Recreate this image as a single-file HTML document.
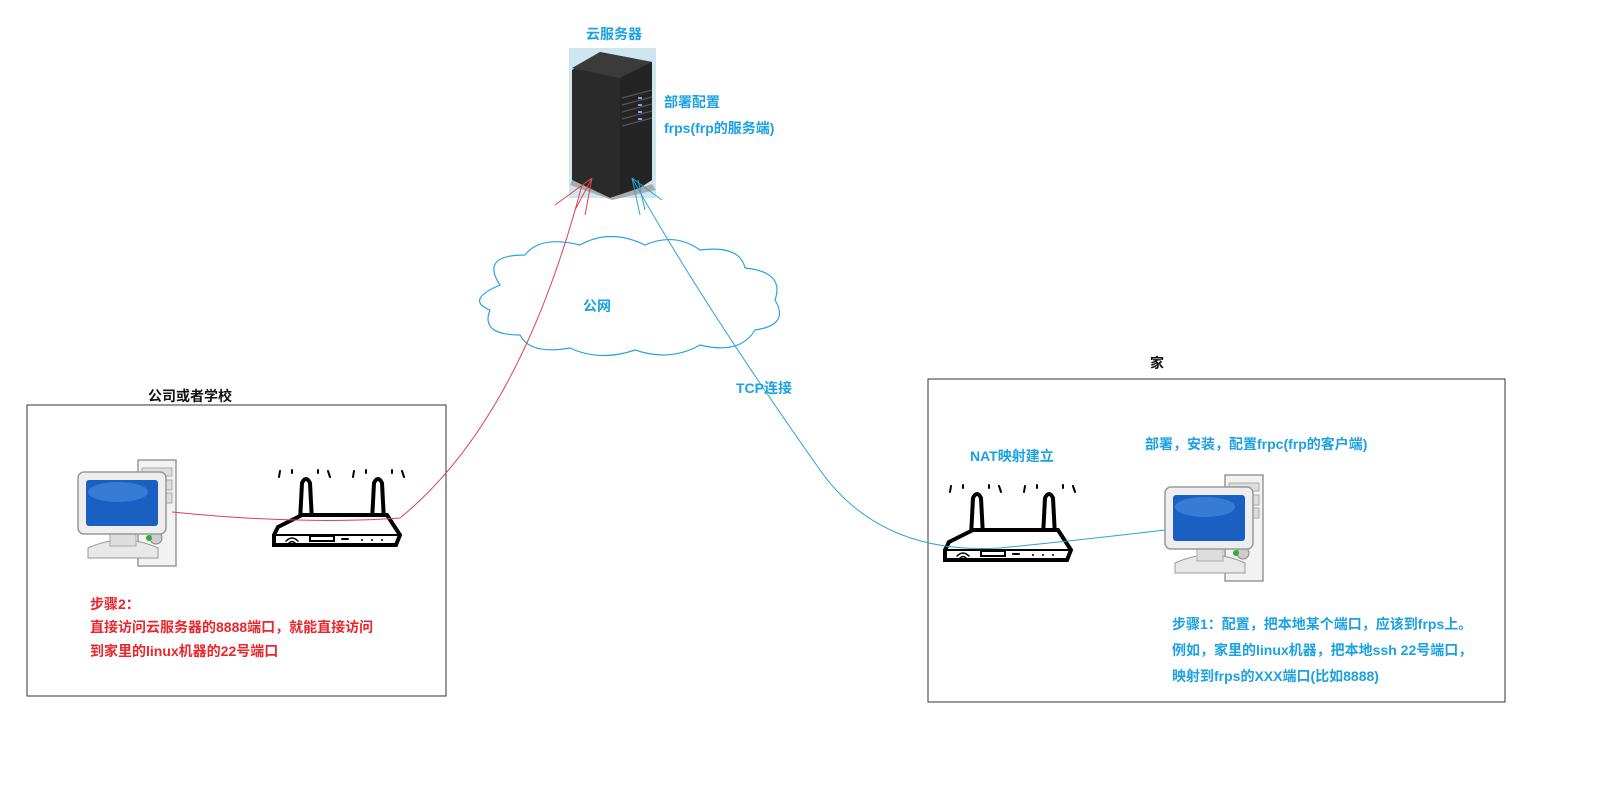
<!DOCTYPE html>
<html><head><meta charset="utf-8"><style>
html,body{margin:0;padding:0;background:#fff}
body{width:1605px;height:796px;overflow:hidden;position:relative;font-family:"Liberation Sans","Noto Sans CJK SC",sans-serif;font-weight:bold}
.t{position:absolute;font-size:14px;white-space:nowrap}
.b{color:#1ba1e2}.r{color:#e8262b}.k{color:#111}
</style></head><body>
<svg width="1605" height="796" style="position:absolute;left:0;top:0">
<defs>
<g id="pc">
 <rect x="60" y="0" width="38" height="106" fill="#f2f2f2" stroke="#999" stroke-width="1.5"/>
 <rect x="64" y="8" width="30" height="8" fill="#ddd" stroke="#aaa"/>
 <rect x="64" y="20" width="30" height="10" fill="#ddd" stroke="#aaa"/>
 <rect x="64" y="33" width="30" height="10" fill="#ddd" stroke="#aaa"/>
 <circle cx="78" cy="78" r="6" fill="#ccc" stroke="#888"/>
 <circle cx="71" cy="78" r="3" fill="#3a3"/>
 <path d="M10 88 Q45 72 80 88 L80 98 L10 98Z" fill="#e8e8e8" stroke="#999"/>
 <rect x="32" y="70" width="26" height="16" fill="#ddd" stroke="#aaa"/>
 <rect x="0" y="12" width="88" height="62" rx="6" fill="#eee" stroke="#999" stroke-width="1.5"/>
 <rect x="8" y="20" width="72" height="46" rx="3" fill="#1a5fc2"/>
 <ellipse cx="40" cy="32" rx="30" ry="10" fill="#4b8fe0" opacity=".6"/>
</g>
<g id="rt" fill="none" stroke="#000" stroke-width="4" stroke-linecap="round">
 <path d="M28 56 L30 18 Q34 10 38 18 L40 56"/>
 <path d="M100 56 L102 18 Q106 10 110 18 L112 56"/>
 <path d="M6 62 L30 50 L115 50 L128 70 L124 80 L2 80 L2 70Z" fill="#fff"/>
 <path d="M2 70 L128 70" stroke-width="2"/>
 <rect x="38" y="71" width="24" height="5" stroke-width="2"/>
 <path d="M70 74 L76 74 M90 75 L90 75 M100 75 L100 75 M110 75 L110 75" stroke-width="2"/>
 <path d="M14 76 Q20 70 26 76 M17 78 Q20 75 23 78" stroke-width="1.5"/>
 <path d="M8 6 L7 12 M20 5 L20 8 M46 5 L46 8 M56 6 L58 12 M82 6 L81 12 M94 5 L94 8 M120 5 L120 8 M130 6 L132 12" stroke-width="2"/>
</g>
</defs>
<!-- cloud -->
<path d="M500 285 Q480 255 525 255 Q540 235 580 245 Q610 228 645 245 Q675 232 700 250 Q740 245 745 268 Q785 272 775 300 Q790 325 755 330 Q740 355 700 345 Q670 362 635 350 Q600 362 570 348 Q530 355 520 335 Q480 335 490 310 Q465 300 500 285Z" fill="#fff" stroke="#2aa3e0" stroke-width="1.2"/>
<!-- server -->
<rect x="569" y="48" width="87" height="150" fill="#cfe6ef"/>
<path d="M572 70 L600 52 L652 62 L652 180 L640 188 L610 198 L572 180Z" fill="#2a2a2a"/>
<path d="M600 52 L652 62 L620 78 L572 68Z" fill="#3b3b3b"/>
<path d="M620 78 L652 62 L652 180 L620 195Z" fill="#242424"/>
<g stroke="#555" stroke-width="1.2"><path d="M622 98 L652 90 M622 105 L652 97 M622 112 L652 104 M622 119 L652 111 M622 126 L652 118"/></g>
<g fill="#7aa8e0"><rect x="638" y="97" width="4" height="2"/><rect x="638" y="104" width="4" height="2"/><rect x="638" y="111" width="4" height="2"/><rect x="638" y="118" width="4" height="2"/></g>
<path d="M572 180 L610 198 L652 184 L656 190 L612 200 L570 185Z" fill="#aaa"/>
<!-- boxes -->
<rect x="27" y="405" width="419" height="291" fill="none" stroke="#333" stroke-width="1"/>
<rect x="928" y="379" width="577" height="323" fill="none" stroke="#333" stroke-width="1"/>
<use href="#pc" x="78" y="460"/>
<use href="#pc" x="1165" y="475"/>
<use href="#rt" x="272" y="465"/>
<use href="#rt" x="943" y="480"/>
<!-- lines -->
<path d="M172 512 Q300 525 400 518 Q520 420 582 185" fill="none" stroke="#e04050" stroke-width="1"/>
<path d="M555 205 L592 178 M575 210 L592 178 M585 215 L592 178" fill="none" stroke="#e04050" stroke-width="1"/>
<path d="M1165 530 Q1080 540 1000 548 Q880 555 820 470 Q700 300 632 178" fill="none" stroke="#2aa3d8" stroke-width="1"/>
<path d="M640 215 L632 178 M662 200 L632 178 M645 210 L638 180" fill="none" stroke="#2aa3d8" stroke-width="1"/>
</svg>
<div class="t b" style="left:586px;top:24px">云服务器</div>
<div class="t b" style="left:664px;top:92px">部署配置</div>
<div class="t b" style="left:664px;top:118px">frps(frp的服务端)</div>
<div class="t b" style="left:583px;top:296px">公网</div>
<div class="t b" style="left:736px;top:378px">TCP连接</div>
<div class="t k" style="left:148px;top:386px">公司或者学校</div>
<div class="t k" style="left:1150px;top:353px">家</div>
<div class="t b" style="left:970px;top:446px">NAT映射建立</div>
<div class="t b" style="left:1145px;top:434px">部署，安装，配置frpc(frp的客户端)</div>
<div class="t r" style="left:90px;top:594px">步骤2：</div>
<div class="t r" style="left:90px;top:617px">直接访问云服务器的8888端口，就能直接访问</div>
<div class="t r" style="left:90px;top:641px">到家里的linux机器的22号端口</div>
<div class="t b" style="left:1172px;top:614px">步骤1：配置，把本地某个端口，应该到frps上。</div>
<div class="t b" style="left:1172px;top:640px">例如，家里的linux机器，把本地ssh 22号端口，</div>
<div class="t b" style="left:1172px;top:666px">映射到frps的XXX端口(比如8888)</div>
</body></html>
